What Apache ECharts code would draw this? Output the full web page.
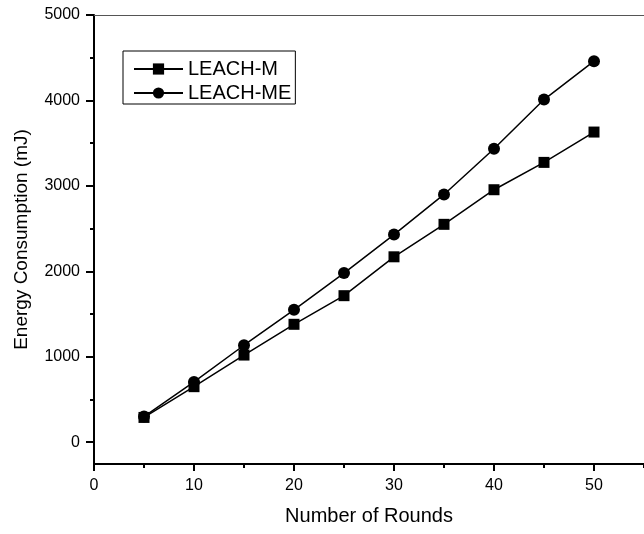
<!DOCTYPE html>
<html>
<head>
<meta charset="utf-8">
<script src="https://cdn.jsdelivr.net/npm/echarts@6/dist/echarts.min.js"></script>
<style>
  html, body { margin: 0; padding: 0; background: #fff; }
  #chart { width: 644px; height: 534px; }
</style>
</head>
<body>
<div id="chart"></div>
<script>
// Rounds on the x axis
var rounds = [5, 10, 15, 20, 25, 30, 35, 40, 45, 50];
// Energy consumption (mJ) per protocol
var leachM  = [290, 650, 1020, 1380, 1715, 2170, 2550, 2955, 3275, 3630];
var leachME = [300, 705, 1135, 1550, 1980, 2430, 2900, 3435, 4010, 4460];
// Tick positions
var xMajor = [0, 10, 20, 30, 40, 50];
var xMinor = [5, 15, 25, 35, 45, 55];
var yMajor = [0, 1000, 2000, 3000, 4000, 5000];
var yMinor = [500, 1500, 2500, 3500, 4500];

var FONT = '"Liberation Sans", Arial, Helvetica, sans-serif';
var X_MIN = 0, X_MAX = 55, Y_MIN = -255, Y_MAX = 5000;

function pairs(xs, ys) {
  return xs.map(function (x, i) { return [x, ys[i]]; });
}
function plain(v) { return String(v); }

var chart = echarts.init(document.getElementById('chart'), null, { renderer: 'canvas' });

var hidden = { show: false };

chart.setOption({
  animation: false,
  backgroundColor: '#fff',
  grid: { left: 94, right: 0, top: 15, bottom: 70, containLabel: false },
  legend: {
    left: 123, top: 51,
    orient: 'vertical',
    backgroundColor: '#fff',
    borderColor: '#000', borderWidth: 1, borderRadius: 0,
    padding: [8, 4, 1, 10],
    itemWidth: 49, itemHeight: 14, itemGap: 4,
    textStyle: { fontFamily: FONT, fontSize: 20, color: '#000' },
    data: ['LEACH-M', 'LEACH-ME']
  },
  xAxis: [
    {
      type: 'value', position: 'bottom', min: X_MIN, max: X_MAX,
      name: 'Number of Rounds', nameLocation: 'middle', nameGap: 42,
      nameTextStyle: { fontFamily: FONT, fontSize: 20, color: '#000' },
      axisLine: { show: true, onZero: false, lineStyle: { color: '#000', width: 2 } },
      axisTick: { show: true, customValues: xMajor, length: 7, lineStyle: { color: '#000', width: 2 } },
      axisLabel: { show: true, customValues: xMajor, formatter: plain, margin: 14, fontFamily: FONT, fontSize: 16, color: '#000' },
      splitLine: hidden
    },
    {
      // minor ticks along the bottom
      type: 'value', position: 'bottom', min: X_MIN, max: X_MAX,
      axisLine: { show: false, onZero: false },
      axisTick: { show: true, customValues: xMinor, length: 4, lineStyle: { color: '#000', width: 2 } },
      axisLabel: hidden, splitLine: hidden
    },
    {
      // frame line on top
      type: 'value', position: 'top', min: X_MIN, max: X_MAX,
      axisLine: { show: true, onZero: false, lineStyle: { color: '#555', width: 1 } },
      axisTick: hidden, axisLabel: hidden, splitLine: hidden
    }
  ],
  yAxis: [
    {
      type: 'value', position: 'left', min: Y_MIN, max: Y_MAX,
      name: 'Energy Consumption (mJ)', nameLocation: 'middle', nameGap: 63, nameRotate: 90,
      nameTextStyle: { fontFamily: FONT, fontSize: 19, color: '#000' },
      axisLine: { show: true, onZero: false, lineStyle: { color: '#000', width: 2 } },
      axisTick: { show: true, customValues: yMajor, length: 8, lineStyle: { color: '#000', width: 2 } },
      axisLabel: { show: true, customValues: yMajor, formatter: plain, margin: 14, fontFamily: FONT, fontSize: 16, color: '#000' },
      splitLine: hidden
    },
    {
      // minor ticks on the left
      type: 'value', position: 'left', min: Y_MIN, max: Y_MAX,
      axisLine: { show: false, onZero: false },
      axisTick: { show: true, customValues: yMinor, length: 4, lineStyle: { color: '#000', width: 2 } },
      axisLabel: hidden, splitLine: hidden
    }
  ],
  series: [
    {
      name: 'LEACH-M', type: 'line', xAxisIndex: 0, yAxisIndex: 0,
      data: pairs(rounds, leachM),
      symbol: 'rect', symbolSize: 11,
      lineStyle: { color: '#000', width: 1.5 },
      itemStyle: { color: '#000', borderWidth: 0 },
      z: 3
    },
    {
      name: 'LEACH-ME', type: 'line', xAxisIndex: 0, yAxisIndex: 0,
      data: pairs(rounds, leachME),
      symbol: 'circle', symbolSize: 12,
      lineStyle: { color: '#000', width: 1.5 },
      itemStyle: { color: '#000', borderWidth: 0 },
      z: 4
    }
  ]
});
</script>
</body>
</html>
